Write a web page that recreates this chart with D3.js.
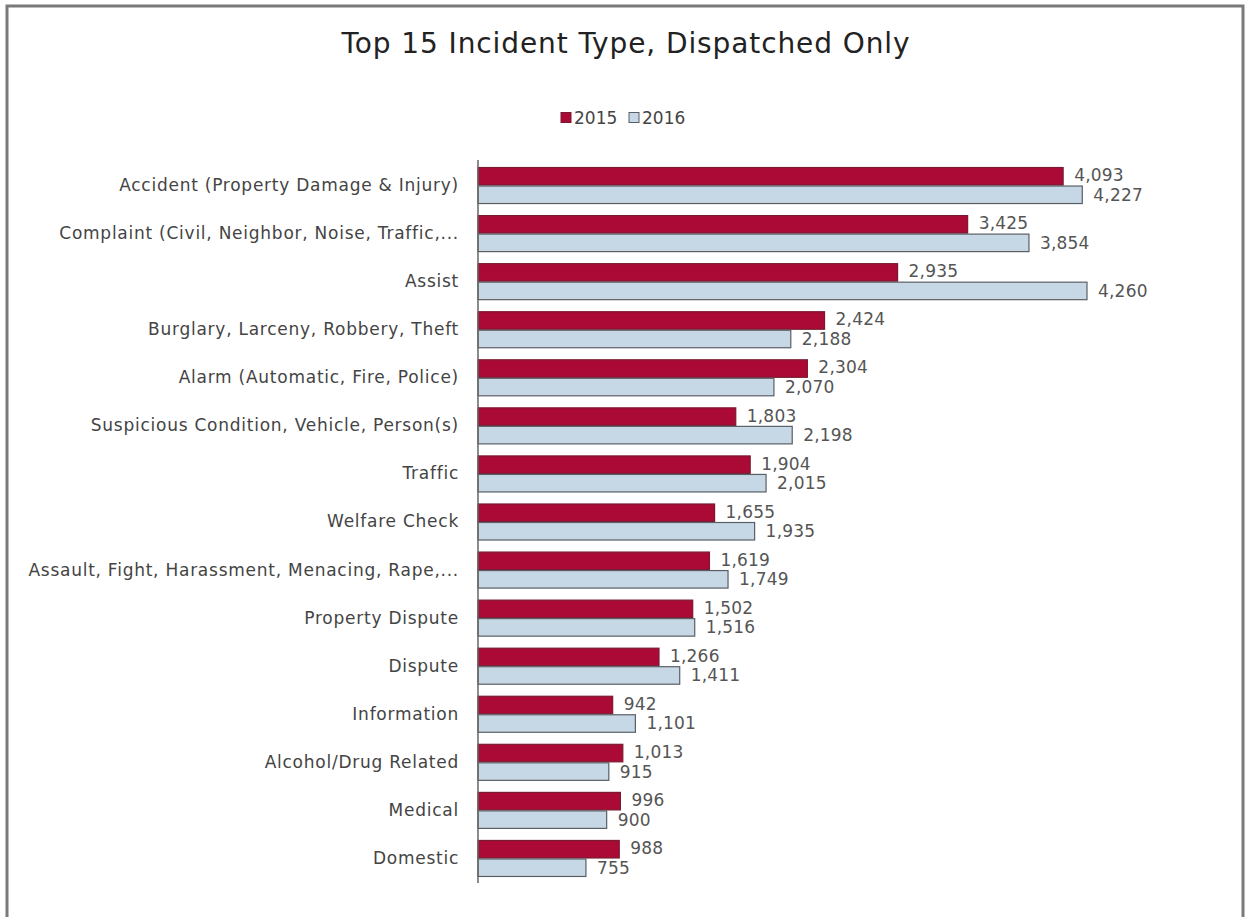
<!DOCTYPE html>
<html><head><meta charset="utf-8">
<script src="https://cdn.jsdelivr.net/npm/d3@7"></script>
<style>body{margin:0;background:#fff}svg{display:block}</style>
</head><body>
<script>
const categories = ["Accident (Property Damage & Injury)","Complaint (Civil, Neighbor, Noise, Traffic,...","Assist","Burglary, Larceny, Robbery, Theft","Alarm (Automatic, Fire, Police)","Suspicious Condition, Vehicle, Person(s)","Traffic","Welfare Check","Assault, Fight, Harassment, Menacing, Rape,...","Property Dispute","Dispute","Information","Alcohol/Drug Related","Medical","Domestic"];
const values2015 = [4093,3425,2935,2424,2304,1803,1904,1655,1619,1502,1266,942,1013,996,988];
const values2016 = [4227,3854,4260,2188,2070,2198,2015,1935,1749,1516,1411,1101,915,900,755];
const seriesNames = ["2015","2016"];
const title = "Top 15 Incident Type, Dispatched Only";

const W=1245,H=917;
const font="'DejaVu Sans', sans-serif";
const svg=d3.select("body").append("svg").attr("width",W).attr("height",H);
svg.append("rect").attr("x",7).attr("y",6).attr("width",1236).attr("height",925).attr("fill","none").attr("stroke","#7a7a7a").attr("stroke-width",3);

svg.append("text").attr("x",626).attr("y",53).attr("text-anchor","middle").attr("font-family",font).attr("font-size",28).attr("letter-spacing",0.9).attr("fill","#222").text(title);

const x=d3.scaleLinear().domain([0,4260]).range([478,1087]);
const y=d3.scaleBand().domain(categories).range([161.5,882.5]).paddingInner(0.23).paddingOuter(0.115);
const y1=d3.scaleBand().domain(seriesNames).range([0,y.bandwidth()]);
const colors={"2015":"#ab0a37","2016":"#c6d7e5"};
const strokes={"2015":"#7a1a30","2016":"#5a5f66"};

const data=categories.map((c,i)=>({c,v:{"2015":values2015[i],"2016":values2016[i]}}));
const g=svg.append("g");
data.forEach(d=>{
  seriesNames.forEach(s=>{
    const yy=y(d.c)+y1(s);
    g.append("rect").attr("x",x(0)).attr("y",yy+0.5).attr("width",x(d.v[s])-x(0)).attr("height",y1.bandwidth()-1)
      .attr("fill",colors[s]).attr("stroke",strokes[s]).attr("stroke-width",1.2);
    g.append("text").attr("x",x(d.v[s])+11).attr("y",yy+y1.bandwidth()/2 + (s==="2015"?-1:0)).attr("dy","0.35em")
      .attr("font-family",font).attr("font-size",17).attr("letter-spacing",0.2).attr("fill","#555").text(d3.format(",")(d.v[s]));
  });
});

const axis=d3.axisLeft(y).tickSize(0).tickPadding(19);
const ag=svg.append("g").attr("transform","translate(478,0)").call(axis);
ag.select(".domain").attr("stroke","#666").attr("stroke-width",1.5).attr("d","M0,160V883");
ag.selectAll("text").attr("font-family",font).attr("font-size",17).attr("letter-spacing",0.75).attr("fill","#444");

const leg=svg.append("g");
const legItems=[{s:"2015",x:561},{s:"2016",x:629}];
legItems.forEach(l=>{
  leg.append("rect").attr("x",l.x).attr("y",112.5).attr("width",10).attr("height",10).attr("fill",colors[l.s]).attr("stroke",strokes[l.s]);
  leg.append("text").attr("x",l.x+13).attr("y",118).attr("dy","0.35em").attr("font-family",font).attr("font-size",17).attr("fill","#444").text(l.s);
});
</script>
</body></html>
